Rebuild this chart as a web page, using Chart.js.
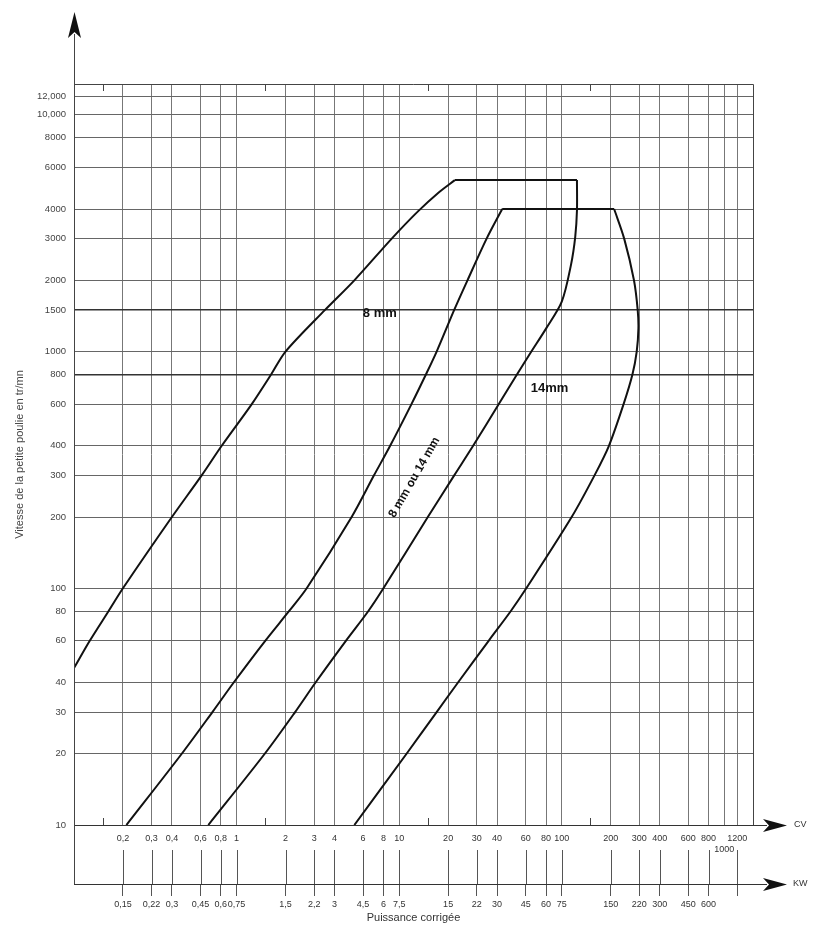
<!DOCTYPE html>
<html>
<head>
<meta charset="utf-8">
<script src="https://cdn.jsdelivr.net/npm/chart.js@4.4.1/dist/chart.umd.min.js"></script>
<style>
  html, body { margin: 0; padding: 0; background: #fff; }
  canvas { display: block; }
</style>
</head>
<body>
<canvas id="beltChart" width="817" height="928"></canvas>
<script>
/******** axis ticks *********/
const rpmTicks = [10, 20, 30, 40, 60, 80, 100, 200, 300, 400, 600, 800, 1000, 1500, 2000, 3000, 4000, 6000, 8000, 10000, 12000];
const rpmLabels = ["10", "20", "30", "40", "60", "80", "100", "200", "300", "400", "600", "800", "1000", "1500", "2000", "3000", "4000", "6000", "8000", "10,000", "12,000"];
const cvTicks = [0.2, 0.3, 0.4, 0.6, 0.8, 1, 2, 3, 4, 6, 8, 10, 20, 30, 40, 60, 80, 100, 200, 300, 400, 600, 800, 1000, 1200];
const cvLabels = ["0,2", "0,3", "0,4", "0,6", "0,8", "1", "2", "3", "4", "6", "8", "10", "20", "30", "40", "60", "80", "100", "200", "300", "400", "600", "800", ["", "1000"], "1200"];
const kwTicks = [0.2, 0.3, 0.4, 0.6, 0.8, 1, 2, 3, 4, 6, 8, 10, 20, 30, 40, 60, 80, 100, 200, 300, 400, 600, 800, 1200];
const kwLabels = ["0,15", "0,22", "0,3", "0,45", "0,6", "0,75", "1,5", "2,2", "3", "4,5", "6", "7,5", "15", "22", "30", "45", "60", "75", "150", "220", "300", "450", "600", ""];
const minorTicks = [0.15, 1.5, 15, 150];

/******** 8 mm zone (CV, tr/mn) *********/
const belt8RiseCv = [0.1, 0.125, 0.163, 0.2, 0.4, 0.61, 0.81, 1.24, 1.63, 2, 3.5, 5.3, 9, 13, 17.5, 22];
const belt8RiseRpm = [46, 60, 80, 100, 200, 300, 400, 600, 800, 1000, 1500, 2000, 3000, 3900, 4700, 5300];
const belt8TopCv = [22, 124];
const belt8TopRpm = [5300, 5300];
const belt8FallCv = [124, 124, 121, 114, 100, 80, 65, 53, 41, 28.5, 21.8, 15, 8, 6.45, 4.7, 3.06, 2.29, 1.49, 0.67];
const belt8FallRpm = [5300, 3950, 3050, 2330, 1625, 1250, 1000, 800, 600, 400, 300, 200, 100, 80, 60, 40, 30, 20, 10];

/******** 14 mm zone *********/
const belt14RiseCv = [0.21, 0.46, 0.71, 0.96, 1.5, 2.1, 2.7, 5.1, 7.0, 8.8, 11.9, 14.6, 17, 21.8, 26.3, 34.5, 43];
const belt14RiseRpm = [10, 20, 30, 40, 60, 80, 100, 200, 300, 400, 600, 800, 1000, 1500, 2000, 3000, 4000];
const belt14TopCv = [43, 210];
const belt14TopRpm = [4000, 4000];
const belt14FallCv = [210, 242, 278, 293, 296, 289, 272, 240, 195, 159, 115, 60.5, 48.5, 35.5, 23, 17, 11.1, 5.3];
const belt14FallRpm = [4000, 3000, 2000, 1500, 1250, 1000, 800, 600, 400, 300, 200, 100, 80, 60, 40, 30, 20, 10];

const toPoints = (xs, ys) => xs.map((x, i) => ({ x: x, y: ys[i] }));

const curve = (xs, ys, tension) => ({
    data: toPoints(xs, ys),
    showLine: true,
    borderColor: "#111",
    borderWidth: 2,
    pointRadius: 0,
    tension: tension,
});

// zone labels, in data coordinates
const zoneNotes = [
    { text: "8 mm", x: 7.6, y: 1450, size: 13, angle: 0 },
    { text: "14mm", x: 84, y: 700, size: 13, angle: 0 },
    { text: "8 mm ou 14 mm", x: 12.4, y: 294, size: 12, angle: -60 },
];

const arrowRight = (ctx, x0, x1, y) => {
    ctx.beginPath();
    ctx.moveTo(x0, y);
    ctx.lineTo(x1 - 20, y);
    ctx.stroke();
    ctx.beginPath();
    ctx.moveTo(x1, y);
    ctx.lineTo(x1 - 24, y - 6.5);
    ctx.lineTo(x1 - 18, y);
    ctx.lineTo(x1 - 24, y + 6.5);
    ctx.closePath();
    ctx.fill();
};

const decor = {
    id: "decor",
    afterDraw(chart) {
        const ctx = chart.ctx;
        const a = chart.chartArea;
        const xs = chart.scales.x;
        const kw = chart.scales.x2;
        const ys = chart.scales.y;
        ctx.save();
        ctx.strokeStyle = "#444";
        ctx.fillStyle = "#111";
        ctx.lineWidth = 1;

        // frame top / right
        ctx.beginPath();
        ctx.moveTo(a.left, a.top + 0.5);
        ctx.lineTo(a.right + 0.5, a.top + 0.5);
        ctx.lineTo(a.right + 0.5, a.bottom);
        ctx.stroke();

        // vertical axis with arrow
        ctx.beginPath();
        ctx.moveTo(a.left + 0.5, 34);
        ctx.lineTo(a.left + 0.5, kw.top);
        ctx.stroke();
        ctx.beginPath();
        ctx.moveTo(a.left + 0.5, 12);
        ctx.lineTo(a.left + 7, 38);
        ctx.lineTo(a.left + 0.5, 32);
        ctx.lineTo(a.left - 6, 38);
        ctx.closePath();
        ctx.fill();

        // minor ticks
        minorTicks.forEach(v => {
            const px = Math.round(xs.getPixelForValue(v)) + 0.5;
            ctx.beginPath();
            ctx.moveTo(px, a.top);
            ctx.lineTo(px, a.top + 7);
            ctx.moveTo(px, a.bottom);
            ctx.lineTo(px, a.bottom - 7);
            ctx.stroke();
        });

        // links between CV and KW scales
        ctx.strokeStyle = "#555";
        kwTicks.forEach(v => {
            const px = Math.round(kw.getPixelForValue(v)) + 0.5;
            ctx.beginPath();
            ctx.moveTo(px, kw.top - 34);
            ctx.lineTo(px, kw.top);
            ctx.stroke();
        });

        // CV and KW arrows
        ctx.strokeStyle = "#333";
        arrowRight(ctx, a.right, 787, Math.round(a.bottom) + 0.5);
        arrowRight(ctx, a.right, 787, Math.round(kw.top) + 0.5);
        ctx.fillStyle = "#333";
        ctx.font = "9px 'Liberation Sans', Arial, sans-serif";
        ctx.textBaseline = "middle";
        ctx.textAlign = "left";
        ctx.fillText("CV", 794, a.bottom);
        ctx.fillText("KW", 793, kw.top);

        // zone labels
        ctx.fillStyle = "#111";
        ctx.textAlign = "center";
        zoneNotes.forEach(n => {
            ctx.save();
            ctx.translate(xs.getPixelForValue(n.x), ys.getPixelForValue(n.y));
            ctx.rotate(n.angle * Math.PI / 180);
            ctx.font = "bold " + n.size + "px 'Liberation Sans', Arial, sans-serif";
            ctx.fillText(n.text, 0, 0);
            ctx.restore();
        });
        ctx.restore();
    },
};

const tickFont = { family: "'Liberation Sans', Arial, sans-serif", size: 9 };

const beltChart = new Chart(document.getElementById("beltChart"), {
    type: "scatter",
    data: {
        datasets: [
            curve(belt8RiseCv, belt8RiseRpm, 0.3),
            curve(belt8TopCv, belt8TopRpm, 0),
            curve(belt8FallCv, belt8FallRpm, 0.3),
            curve(belt14RiseCv, belt14RiseRpm, 0.3),
            curve(belt14TopCv, belt14TopRpm, 0),
            curve(belt14FallCv, belt14FallRpm, 0.3),
        ],
    },
    options: {
        responsive: false,
        animation: false,
        layout: { padding: { left: 0, top: 84, right: 64, bottom: 0 } },
        plugins: {
            legend: { display: false },
            tooltip: { enabled: false },
        },
        scales: {
            x: {
                type: "logarithmic",
                position: "bottom",
                weight: 1,
                min: 0.1,
                max: 1500,
                afterBuildTicks: s => { s.ticks = cvTicks.map(v => ({ value: v })); },
                afterFit: s => { s.height = 59; },
                ticks: {
                    autoSkip: false,
                    maxRotation: 0,
                    padding: 8,
                    color: "#333",
                    font: tickFont,
                    major: { enabled: false },
                    callback: (v, i) => cvLabels[i],
                },
                grid: { color: "#777", drawTicks: false },
                border: { color: "#333" },
            },
            x2: {
                type: "logarithmic",
                position: "bottom",
                weight: 2,
                min: 0.1,
                max: 1500,
                afterBuildTicks: s => { s.ticks = kwTicks.map(v => ({ value: v })); },
                afterFit: s => { s.height = 44; },
                ticks: {
                    autoSkip: false,
                    maxRotation: 0,
                    padding: 3,
                    color: "#333",
                    font: tickFont,
                    major: { enabled: false },
                    callback: (v, i) => kwLabels[i],
                },
                grid: { drawOnChartArea: false, tickLength: 12, color: "#555" },
                border: { color: "#333" },
                title: {
                    display: true,
                    text: "Puissance corrigée",
                    color: "#333",
                    font: { family: "'Liberation Sans', Arial, sans-serif", size: 11 },
                    padding: { top: 0, bottom: 3 },
                },
            },
            y: {
                type: "logarithmic",
                position: "left",
                min: 10,
                max: 13500,
                afterBuildTicks: s => { s.ticks = rpmTicks.map(v => ({ value: v })); },
                afterFit: s => { s.width = 74; },
                ticks: {
                    autoSkip: false,
                    padding: 8,
                    color: "#444",
                    font: { family: "'Liberation Sans', Arial, sans-serif", size: 9.5 },
                    major: { enabled: false },
                    callback: (v, i) => rpmLabels[i],
                },
                grid: {
                    drawTicks: false,
                    color: c => (c.tick && (c.tick.value === 1500 || c.tick.value === 800)) ? "#333" : "#666",
                    lineWidth: c => (c.tick && (c.tick.value === 1500 || c.tick.value === 800)) ? 1.6 : 1,
                },
                border: { color: "#333" },
                title: {
                    display: true,
                    text: "Vitesse de la petite poulie en tr/mn",
                    color: "#444",
                    font: { family: "'Liberation Sans', Arial, sans-serif", size: 11 },
                    padding: { top: 13, bottom: 0 },
                },
            },
        },
    },
    plugins: [decor],
});
</script>
</body>
</html>
